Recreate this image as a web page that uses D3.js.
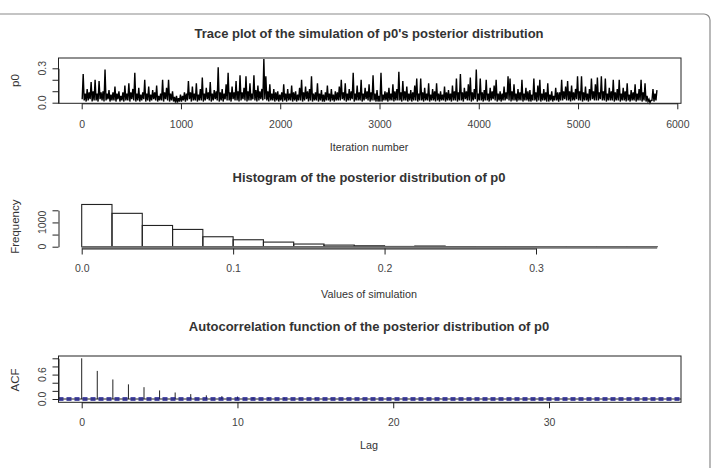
<!DOCTYPE html>
<html>
<head>
<meta charset="utf-8">
<script src="https://cdn.jsdelivr.net/npm/d3@7"></script>
<style>
  body { margin: 0; background: #fff; }
  svg { display: block; font-family: "Liberation Sans", Arial, sans-serif; }
  .tick text { fill: #444; }
</style>
</head>
<body>
<svg id="chart" width="714" height="468"></svg>
<script>
// trace of p0 in blocks of 20 iterations: highest and lowest value seen in each block
const traceStep = 20
const traceHigh = [
  0.25, 0.08, 0.12, 0.09, 0.18, 0.10, 0.20, 0.08, 0.19, 0.09,
  0.10, 0.29, 0.08, 0.11, 0.07, 0.09, 0.14, 0.08, 0.10, 0.06,
  0.09, 0.15, 0.08, 0.17, 0.09, 0.12, 0.26, 0.08, 0.13, 0.07,
  0.09, 0.20, 0.08, 0.14, 0.07, 0.11, 0.09, 0.15, 0.06, 0.08,
  0.20, 0.09, 0.13, 0.20, 0.08, 0.10, 0.05, 0.06, 0.04, 0.07,
  0.06, 0.09, 0.08, 0.19, 0.09, 0.14, 0.08, 0.17, 0.07, 0.12,
  0.22, 0.08, 0.13, 0.09, 0.18, 0.08, 0.11, 0.10, 0.31, 0.09,
  0.12, 0.08, 0.16, 0.26, 0.09, 0.14, 0.09, 0.19, 0.10, 0.24,
  0.09, 0.13, 0.23, 0.10, 0.17, 0.08, 0.24, 0.11, 0.15, 0.10,
  0.12, 0.38, 0.23, 0.10, 0.16, 0.08, 0.12, 0.09, 0.10, 0.07,
  0.09, 0.16, 0.08, 0.12, 0.08, 0.15, 0.09, 0.10, 0.07, 0.13,
  0.20, 0.09, 0.14, 0.10, 0.12, 0.23, 0.08, 0.09, 0.17, 0.08,
  0.11, 0.07, 0.09, 0.15, 0.08, 0.12, 0.07, 0.10, 0.09, 0.14,
  0.20, 0.09, 0.17, 0.08, 0.12, 0.10, 0.26, 0.08, 0.15, 0.09,
  0.20, 0.08, 0.13, 0.10, 0.16, 0.09, 0.24, 0.08, 0.11, 0.06,
  0.26, 0.07, 0.10, 0.09, 0.13, 0.08, 0.16, 0.10, 0.12, 0.27,
  0.09, 0.19, 0.10, 0.14, 0.08, 0.11, 0.09, 0.15, 0.21, 0.08,
  0.21, 0.09, 0.13, 0.08, 0.17, 0.07, 0.12, 0.10, 0.17, 0.08,
  0.10, 0.07, 0.14, 0.09, 0.11, 0.08, 0.15, 0.10, 0.21, 0.09,
  0.25, 0.09, 0.13, 0.10, 0.16, 0.22, 0.09, 0.12, 0.29, 0.08,
  0.21, 0.09, 0.11, 0.20, 0.08, 0.13, 0.10, 0.15, 0.20, 0.08,
  0.10, 0.08, 0.14, 0.09, 0.23, 0.21, 0.10, 0.16, 0.08, 0.12,
  0.09, 0.20, 0.08, 0.13, 0.10, 0.11, 0.07, 0.21, 0.09, 0.15,
  0.20, 0.08, 0.12, 0.09, 0.17, 0.07, 0.10, 0.06, 0.13, 0.09,
  0.09, 0.20, 0.10, 0.14, 0.19, 0.10, 0.15, 0.09, 0.12, 0.23,
  0.10, 0.23, 0.09, 0.14, 0.08, 0.12, 0.21, 0.10, 0.16, 0.22,
  0.09, 0.23, 0.10, 0.21, 0.08, 0.13, 0.10, 0.20, 0.09, 0.12,
  0.20, 0.08, 0.13, 0.10, 0.17, 0.07, 0.11, 0.09, 0.16, 0.08,
  0.12, 0.20, 0.09, 0.17, 0.06, 0.03, 0.02, 0.12, 0.08, 0.11
]
const traceLow = [
  0.03, 0.02, 0.01, 0.02, 0.03, 0.01, 0.02, 0.02, 0.01, 0.03,
  0.02, 0.01, 0.02, 0.03, 0.01, 0.02, 0.02, 0.01, 0.03, 0.01,
  0.02, 0.01, 0.02, 0.02, 0.01, 0.03, 0.02, 0.01, 0.02, 0.01,
  0.02, 0.03, 0.01, 0.02, 0.01, 0.02, 0.03, 0.02, 0.01, 0.02,
  0.02, 0.01, 0.03, 0.02, 0.01, 0.02, 0.01, 0.00, 0.00, 0.01,
  0.01, 0.02, 0.01, 0.02, 0.03, 0.01, 0.02, 0.02, 0.01, 0.02,
  0.02, 0.01, 0.02, 0.03, 0.02, 0.01, 0.02, 0.03, 0.02, 0.01,
  0.02, 0.01, 0.03, 0.02, 0.02, 0.01, 0.03, 0.02, 0.02, 0.01,
  0.02, 0.03, 0.02, 0.01, 0.02, 0.02, 0.03, 0.02, 0.01, 0.02,
  0.03, 0.02, 0.03, 0.02, 0.01, 0.02, 0.02, 0.01, 0.02, 0.01,
  0.02, 0.01, 0.02, 0.01, 0.02, 0.02, 0.01, 0.02, 0.01, 0.02,
  0.02, 0.01, 0.02, 0.03, 0.01, 0.02, 0.01, 0.02, 0.02, 0.01,
  0.02, 0.01, 0.01, 0.02, 0.02, 0.01, 0.02, 0.01, 0.02, 0.02,
  0.02, 0.03, 0.02, 0.01, 0.02, 0.02, 0.03, 0.01, 0.02, 0.02,
  0.02, 0.01, 0.02, 0.03, 0.02, 0.01, 0.02, 0.02, 0.01, 0.01,
  0.01, 0.01, 0.02, 0.02, 0.01, 0.02, 0.02, 0.01, 0.02, 0.02,
  0.02, 0.01, 0.02, 0.02, 0.01, 0.02, 0.01, 0.02, 0.02, 0.01,
  0.02, 0.02, 0.01, 0.02, 0.02, 0.01, 0.02, 0.02, 0.01, 0.02,
  0.01, 0.02, 0.02, 0.01, 0.02, 0.02, 0.01, 0.02, 0.02, 0.01,
  0.02, 0.02, 0.01, 0.03, 0.02, 0.02, 0.01, 0.02, 0.03, 0.01,
  0.02, 0.02, 0.01, 0.02, 0.02, 0.01, 0.02, 0.03, 0.02, 0.01,
  0.02, 0.01, 0.02, 0.02, 0.03, 0.02, 0.01, 0.02, 0.02, 0.01,
  0.02, 0.02, 0.01, 0.02, 0.02, 0.01, 0.01, 0.02, 0.02, 0.01,
  0.02, 0.01, 0.02, 0.02, 0.01, 0.01, 0.02, 0.01, 0.02, 0.02,
  0.01, 0.02, 0.02, 0.03, 0.02, 0.02, 0.01, 0.02, 0.02, 0.03,
  0.02, 0.02, 0.01, 0.02, 0.02, 0.01, 0.02, 0.03, 0.02, 0.02,
  0.02, 0.03, 0.02, 0.02, 0.01, 0.02, 0.02, 0.02, 0.01, 0.02,
  0.02, 0.01, 0.02, 0.02, 0.01, 0.02, 0.01, 0.02, 0.02, 0.01,
  0.02, 0.02, 0.01, 0.02, 0.01, 0.01, 0.00, 0.02, 0.01, 0.02
]
const traceXTicks = [0, 1000, 2000, 3000, 4000, 5000, 6000]
const traceYTicks = [0, 0.1, 0.2, 0.3]
const traceYLabels = [0, 0.3]

// histogram, bins of width 0.02 from 0 to 0.38
const histBinWidth = 0.02
const histCounts = [1740, 1375, 875, 712, 410, 286, 190, 110, 66, 38, 10, 28, 5, 3, 2, 1, 1, 1, 1]
const histXTicks = [0, 0.1, 0.2, 0.3]
const histYTicks = [0, 500, 1000, 1500]
const histYLabels = [0, 1000]

// autocorrelation, lags 0..37
const acfValues = [
  1, 0.69, 0.48, 0.36, 0.29, 0.21, 0.16, 0.12, 0.09, 0.07,
  0.06, 0.04, 0.03, 0.03, 0.02, 0.02, 0.01, 0.01, 0.01, 0.0,
  0.01, 0.0, 0.0, 0.01, 0.0, -0.01, 0.0, 0.0, 0.0, -0.01,
  0.0, 0.0, 0.0, 0.0, -0.01, 0.0, 0.0, 0.0
]
const acfN = 5800
const acfXTicks = [0, 10, 20, 30]
const acfYTicks = [0, 0.2, 0.4, 0.6, 0.8, 1.0]
const acfYLabels = [0, 0.6]

const svg = d3.select("#chart")

// figure frame (rounded, partly off canvas)
svg.append("rect")
    .attr("x", -20).attr("y", 14)
    .attr("width", 730).attr("height", 480)
    .attr("rx", 6)
    .attr("fill", "none")
    .attr("stroke", "#8a8a8a")
    .attr("stroke-width", 1.2)

const fmt1 = d3.format(".1f")

function title(text, y) {
    svg.append("text")
        .attr("x", 369).attr("y", y)
        .attr("text-anchor", "middle")
        .attr("font-size", 13)
        .attr("font-weight", "bold")
        .attr("fill", "#333")
        .text(text)
}

function xLabel(text, y) {
    svg.append("text")
        .attr("x", 369).attr("y", y)
        .attr("text-anchor", "middle")
        .attr("font-size", 10.8)
        .attr("fill", "#333")
        .text(text)
}

function yLabel(text, cy) {
    svg.append("text")
        .attr("transform", `translate(19,${cy}) rotate(-90)`)
        .attr("text-anchor", "middle")
        .attr("font-size", 11.5)
        .attr("fill", "#333")
        .text(text)
}

function xAxis(scale, ticks, format, y, pad) {
    svg.append("g")
        .attr("transform", `translate(0,${y})`)
        .call(d3.axisBottom(scale).tickValues(ticks).tickFormat(format)
            .tickSize(6).tickSizeOuter(0).tickPadding(pad))
        .call(g => g.selectAll("text").attr("font-size", 10.5).attr("font-family", null))
        .call(g => g.selectAll("path,line").attr("stroke", "#222"))
}

function yAxis(scale, ticks, labels, format, x) {
    svg.append("g")
        .attr("transform", `translate(${x},0)`)
        .call(d3.axisLeft(scale).tickValues(ticks).tickFormat("")
            .tickSize(6).tickSizeOuter(0))
        .call(g => g.selectAll("path,line").attr("stroke", "#222"))
    svg.append("g").selectAll("text")
        .data(labels)
        .join("text")
        .attr("transform", d => `translate(${x - 13},${scale(d)}) rotate(-90)`)
        .attr("text-anchor", "middle")
        .attr("font-size", 10.5)
        .attr("fill", "#444")
        .text(format)
}

function box(x0, x1, y0, y1) {
    svg.append("rect")
        .attr("x", x0).attr("y", y0)
        .attr("width", x1 - x0).attr("height", y1 - y0)
        .attr("fill", "none")
        .attr("stroke", "#222")
}

// ---- trace plot ----
const tx = d3.scaleLinear().domain([0, 6000]).range([81.7, 677.3])
const ty = d3.scaleLinear().domain([0, 0.3]).range([102.7, 68.3])

title("Trace plot of the simulation of p0's posterior distribution", 38)

// each block: low value in its first half, high value in its second half
const tracePoints = traceHigh.flatMap((hi, i) => [
    [i * traceStep + 5, traceLow[i]],
    [i * traceStep + 15, hi]
])

svg.append("path")
    .datum(tracePoints)
    .attr("fill", "none")
    .attr("stroke", "#000")
    .attr("stroke-width", 1.4)
    .attr("d", d3.line().x(d => tx(d[0])).y(d => ty(d[1])))

box(58.5, 681, 58, 103.3)
xAxis(tx, traceXTicks, d3.format("d"), 103.3, 11)
yAxis(ty, traceYTicks, traceYLabels, fmt1, 58.5)
xLabel("Iteration number", 151)
yLabel("p0", 80.5)

// ---- histogram ----
const hx = d3.scaleLinear().domain([0, 0.3]).range([81.7, 536])
const hy = d3.scaleLinear().domain([0, 1500]).range([246.7, 210.3])

title("Histogram of the posterior distribution of p0", 182)

svg.append("g").selectAll("rect")
    .data(histCounts)
    .join("rect")
    .attr("x", (d, i) => hx(i * histBinWidth))
    .attr("y", d => hy(d))
    .attr("width", (d, i) => hx((i + 1) * histBinWidth) - hx(i * histBinWidth))
    .attr("height", d => hy(0) - hy(d))
    .attr("fill", "none")
    .attr("stroke", "#222")
    .attr("stroke-width", 1.1)

svg.append("line")
    .attr("x1", hx(0)).attr("x2", hx(histCounts.length * histBinWidth))
    .attr("y1", hy(0) + 0.8).attr("y2", hy(0) + 0.8)
    .attr("stroke", "#777").attr("stroke-width", 2.5)

xAxis(hx, histXTicks, fmt1, 248.5, 10)
yAxis(hy, histYTicks, histYLabels, d3.format("d"), 58.5)
xLabel("Values of simulation", 297.5)
yLabel("Frequency", 226.7)

// ---- ACF ----
const ax = d3.scaleLinear().domain([0, 30]).range([81.7, 549])
const ay = d3.scaleLinear().domain([0, 1]).range([399, 358.3])

title("Autocorrelation function of the posterior distribution of p0", 331)

svg.append("g").selectAll("line")
    .data(acfValues)
    .join("line")
    .attr("x1", (d, i) => ax(i)).attr("x2", (d, i) => ax(i))
    .attr("y1", ay(0)).attr("y2", d => ay(d))
    .attr("stroke", "#222")

svg.append("line")
    .attr("x1", 58.5).attr("x2", 681)
    .attr("y1", ay(0)).attr("y2", ay(0))
    .attr("stroke", "#222")

const ci = 1.96 / Math.sqrt(acfN)
svg.append("g").selectAll("line")
    .data([ci, -ci])
    .join("line")
    .attr("x1", 58.5).attr("x2", 681)
    .attr("y1", d => ay(d)).attr("y2", d => ay(d))
    .attr("stroke", "#1a1a8c")
    .attr("stroke-width", 1.6)
    .attr("stroke-dasharray", "5,3")

box(58.5, 681, 356, 402.3)
xAxis(ax, acfXTicks, d3.format("d"), 402.3, 10)
yAxis(ay, acfYTicks, acfYLabels, fmt1, 58.5)
xLabel("Lag", 449)
yLabel("ACF", 380)
</script>
</body>
</html>
